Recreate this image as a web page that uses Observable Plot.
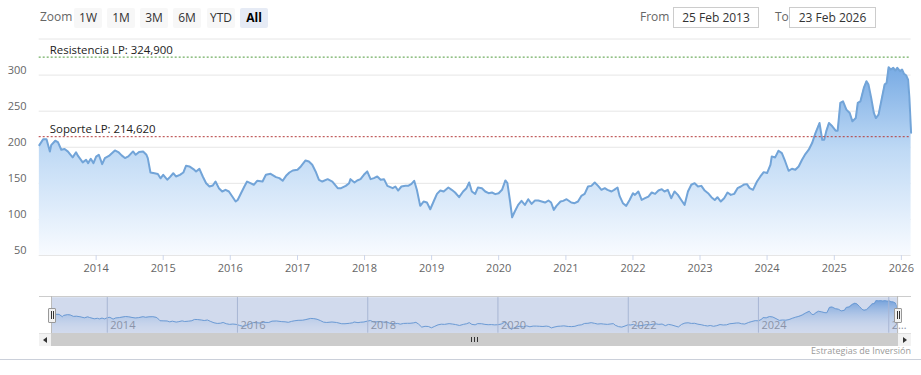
<!DOCTYPE html>
<html><head><meta charset="utf-8">
<script src="https://cdn.jsdelivr.net/npm/d3@7"></script>
<script src="https://cdn.jsdelivr.net/npm/@observablehq/plot@0.6"></script>
<style>
body{margin:0;background:#fff;font-family:"Open Sans",sans-serif;}
#wrap{position:relative;width:921px;height:375px;overflow:hidden;}
.abs{position:absolute;}
.btn{position:absolute;top:8px;height:20px;width:28px;background:#f7f7f7;color:#333;font-size:12px;line-height:20px;text-align:center;border-radius:2px;}
.btn.sel{background:#e6ebf5;font-weight:bold;color:#000;}
.lbl{position:absolute;font-size:12px;color:#666;line-height:20px;top:7px;}
.box{position:absolute;top:7px;height:19px;border:1px solid #ccc;font-size:12px;color:#333;text-align:center;line-height:19px;background:#fff;}
svg{position:absolute;left:0;}
</style></head><body><div id="wrap"></div>
<script>
// ---- data ----
const fromDate = "2013-02-25";
const toDate = "2026-02-23";
const fromLabel = "25 Feb 2013";
const toLabel = "23 Feb 2026";
const zoomButtons = ["1W","1M","3M","6M","YTD","All"];
const resistance = 324.9;
const support = 214.62;
const resistanceLabel = "Resistencia LP: 324,900";
const supportLabel = "Soporte LP: 214,620";
const yTicks = [50,100,150,200,250,300];
const yGrid = [50,100,150,200,250,300,350];
const yearTicks = [2014,2015,2016,2017,2018,2019,2020,2021,2022,2023,2024,2025,2026];
const navYears = [2014,2016,2018,2020,2022,2024,2026];
const navLabels = ["2014","2016","2018","2020","2022","2024","2…"];
const credit = "Estrategias de Inversión";
// decimal-year timestamps
const times = [2013.153,2013.21,2013.26,2013.31,2013.33,2013.39,2013.43,2013.48,2013.53,2013.58,2013.61,2013.65,2013.70,2013.73,2013.80,2013.85,2013.88,2013.92,2013.96,
2014.00,2014.04,2014.09,2014.13,2014.19,2014.28,2014.33,2014.38,2014.43,2014.48,2014.55,2014.59,2014.64,2014.70,2014.75,2014.77,2014.81,2014.87,2014.92,2014.96,
2015.00,2015.06,2015.10,2015.15,2015.19,2015.25,2015.30,2015.34,2015.39,2015.45,2015.49,2015.54,2015.59,2015.64,2015.69,2015.74,2015.78,2015.83,2015.88,2015.93,2015.98,
2016.03,2016.08,2016.11,2016.16,2016.21,2016.25,2016.30,2016.35,2016.40,2016.48,2016.53,2016.60,2016.68,2016.73,2016.78,2016.83,2016.88,2016.93,
2017.00,2017.05,2017.12,2017.17,2017.22,2017.27,2017.32,2017.37,2017.45,2017.52,2017.60,2017.65,2017.72,2017.77,2017.79,2017.85,2017.89,2017.94,2017.99,
2018.04,2018.09,2018.14,2018.19,2018.24,2018.29,2018.34,2018.42,2018.46,2018.50,2018.55,2018.61,2018.65,2018.70,2018.74,2018.78,2018.83,2018.88,2018.93,2018.98,
2019.03,2019.08,2019.13,2019.18,2019.25,2019.30,2019.35,2019.41,2019.47,2019.52,2019.56,2019.60,2019.65,2019.69,2019.75,2019.80,2019.85,2019.90,2019.95,
2020.00,2020.05,2020.10,2020.13,2020.17,2020.20,2020.24,2020.29,2020.34,2020.39,2020.44,2020.49,2020.54,2020.59,2020.64,2020.69,2020.74,2020.78,2020.82,2020.86,2020.92,2020.96,
2021.01,2021.08,2021.13,2021.18,2021.23,2021.28,2021.33,2021.38,2021.43,2021.48,2021.53,2021.58,2021.62,2021.68,2021.72,2021.77,2021.80,2021.85,2021.90,2021.95,
2022.00,2022.03,2022.08,2022.13,2022.18,2022.23,2022.28,2022.33,2022.38,2022.43,2022.47,2022.52,2022.57,2022.62,2022.67,2022.72,2022.77,2022.82,2022.87,2022.92,2022.97,
2023.02,2023.07,2023.12,2023.17,2023.22,2023.26,2023.31,2023.36,2023.41,2023.46,2023.51,2023.56,2023.61,2023.66,2023.70,2023.74,2023.79,2023.85,2023.90,2023.95,
2024.00,2024.05,2024.07,2024.12,2024.17,2024.22,2024.27,2024.32,2024.37,2024.42,2024.47,2024.52,2024.57,2024.62,2024.67,2024.72,2024.78,2024.82,2024.85,2024.88,2024.92,2024.97,
2025.02,2025.05,2025.09,2025.13,2025.18,2025.23,2025.27,2025.32,2025.35,2025.39,2025.44,2025.48,2025.51,2025.55,2025.59,2025.62,2025.66,2025.71,2025.75,2025.78,2025.81,2025.84,2025.88,2025.91,2025.94,2025.98,
2026.01,2026.04,2026.07,2026.10,2026.12,2026.145];
const prices = [203,211,211,194,203,209,207,196.5,197.5,194,190.5,186,193,188,179,182.6,178,184,178,
187,189.6,176.6,185,188,195.6,193.3,188.7,185,187.3,194.2,189.6,193.3,194.2,189.6,185,165,164,163,157,
161.8,155,158.6,164,159.5,161.8,165,174.3,173.4,169.7,166.4,170,159.5,150.2,145.6,147,152.5,143.3,138.7,141,138.7,
131.7,124.8,127,136.3,145.6,152.5,150.2,148,153.5,152.5,161.8,163.2,158.6,157.2,153.5,160.4,165,167.8,
168.8,173.4,181.7,180.3,175.7,166.5,154.9,152.5,155.8,152.5,143.3,143.3,146.5,150.2,155.8,151.2,154,155.8,161.8,
166.5,155.8,157.2,159.5,154.9,155.8,146.5,143.3,145.6,140,145.6,146.5,146.5,149.3,153.5,141,118.8,124.8,123.4,114.1,
124.8,135.4,140,138.7,144.2,141,137.3,130.8,138.7,143.3,151.2,138.7,135.4,144.2,143.3,138.7,136.3,137.3,135,
136.3,141,154,150.2,124.8,103,110.9,120.1,125.7,120.1,128,121.5,126.2,126.2,124.8,123.4,126.2,123.4,113.2,118.8,124.8,125.7,
128,123.4,122.5,124.8,132.6,135.4,145.6,146.5,151.2,146.5,141,143.3,141,138.7,141,144.2,132.6,122.5,118.8,127,
136.3,134,138.7,127,129.4,131.7,137.3,135.4,140,141.9,138.7,141,129.4,138.7,134,127,120.1,138.7,148,150.2,145.6,
146.5,140,136.3,130.8,127,130.8,124.8,129.4,137.3,134,135.4,143.3,145.6,148.5,148.9,143.3,141,152.6,159.5,165.5,
164.2,175.7,187.3,185.9,195.2,191.9,180.3,167.4,170.2,168.8,173.4,182.7,190.5,196.6,205.8,219.7,233.6,210.4,210.4,222,233.6,229,
223,223,261.4,263.7,252.1,247.5,235.9,240.5,261.4,263.7,282.2,291.5,286.8,268.3,247.5,240.5,245.2,268.3,286.8,289.1,310.9,307.7,310,306.3,310,305.4,
307.7,301.6,299.8,293.8,268.3,220];

// ---- helpers ----
function decToDate(t){const y=Math.floor(t);const s=Date.UTC(y,0,1),e=Date.UTC(y+1,0,1);return new Date(s+(t-y)*(e-s));}
const data = times.map((t,i)=>({date:decToDate(t), price:prices[i]}));
const x0 = new Date(fromDate), x1 = new Date(toDate);
const yearDates = yearTicks.map(y=>new Date(Date.UTC(y,0,1)));
const navDates = navYears.map(y=>new Date(Date.UTC(y,0,1)));
const NS="http://www.w3.org/2000/svg";
function addGradient(svg,id,stops){
  const defs=document.createElementNS(NS,"defs");
  const lg=document.createElementNS(NS,"linearGradient");
  lg.setAttribute("id",id);lg.setAttribute("x1","0");lg.setAttribute("y1","0");lg.setAttribute("x2","0");lg.setAttribute("y2","1");
  stops.forEach(([o,c,a])=>{const s=document.createElementNS(NS,"stop");s.setAttribute("offset",o);s.setAttribute("stop-color",c);s.setAttribute("stop-opacity",a);lg.appendChild(s);});
  defs.appendChild(lg);svg.insertBefore(defs,svg.firstChild);
}
const wrap=document.getElementById("wrap");
function div(cls,css,text){const d=document.createElement("div");if(cls)d.className=cls;d.style.cssText=css;if(text!=null)d.textContent=text;wrap.appendChild(d);return d;}

// ---- main chart ----
const main = Plot.plot({
  width:921, height:280,
  marginLeft:38.7, marginRight:10.4, marginTop:38.5, marginBottom:25,
  style:{fontFamily:"Open Sans", fontSize:"11px", background:"transparent", color:"#666", overflow:"visible"},
  x:{type:"utc", domain:[x0,x1]},
  y:{domain:[50,350]},
  marks:[
    Plot.ruleY(yGrid,{stroke:"#e6e6e6"}),
    Plot.areaY(data,{x:"date", y1:50, y2:"price", fill:"url(#mainGrad)"}),
    Plot.lineY(data,{x:"date", y:"price", stroke:"#72a4d8", strokeWidth:2}),
    Plot.ruleY([resistance],{stroke:"#4d9a3a", strokeDasharray:"2,2"}),
    Plot.ruleY([support],{stroke:"#b43a3a", strokeDasharray:"2,2"}),
    Plot.text([resistance],{x:()=>x0, y:d=>d, text:()=>resistanceLabel, textAnchor:"start", lineAnchor:"middle", dx:10.6, dy:-7, fill:"#222", fontSize:11.4}),
    Plot.text([support],{x:()=>x0, y:d=>d, text:()=>supportLabel, textAnchor:"start", lineAnchor:"middle", dx:10.6, dy:-7, fill:"#222", fontSize:11.4}),
    Plot.axisY(yTicks,{tickSize:0, tickPadding:12.7, dy:-5, fill:"#666", fontSize:11, label:null}),
    Plot.axisX(yearDates,{tickSize:5, tickPadding:4, stroke:"#ccd6eb", fill:"#666", tickFormat:"%Y", fontSize:11, label:null})
  ]
});
addGradient(main,"mainGrad",[["0","#78abe4",1],["0.45","#c0daf5",1],["1","#f8fbff",1]]);
main.style.top="0px";
wrap.appendChild(main);

// ---- navigator ----
const nav = Plot.plot({
  width:921, height:60,
  marginLeft:51.5, marginRight:23.3, marginTop:16.7, marginBottom:7.3,
  style:{fontFamily:"Open Sans", fontSize:"11px", background:"transparent", overflow:"visible"},
  x:{type:"utc", domain:[x0,x1], axis:null},
  y:{domain:[75,335], axis:null},
  marks:[
    Plot.areaY(data,{x:"date", y1:75, y2:"price", fill:"url(#navGrad)"}),
    Plot.lineY(data,{x:"date", y:"price", stroke:"#6fa5dc", strokeWidth:1}),
    Plot.ruleX(navDates,{stroke:"#c4cbdb"}),
    Plot.frame({fill:"rgba(102,133,194,0.3)", stroke:null}),
    Plot.text(navDates,{x:d=>d, text:(d,i)=>navLabels[i], frameAnchor:"bottom", dy:-7.7, dx:3, textAnchor:"start", lineAnchor:"middle", fill:"#8a93a8", fontSize:11})
  ]
});
addGradient(nav,"navGrad",[["0","#7aaee6",1],["1","#ffffff",0.2]]);
nav.style.top="280px";
wrap.appendChild(nav);

// ---- range selector (HTML chrome) ----
div("lbl","left:40px;","Zoom");
const btnX=[74,107,140,173,207,240];
zoomButtons.forEach((b,i)=>div("btn"+(b==="All"?" sel":""),`left:${btnX[i]}px;`,b));
div("lbl","left:640px;","From");
div("box","left:673px;width:84px;",fromLabel);
div("lbl","left:775px;","To");
div("box","left:789px;width:85px;",toLabel);

// navigator outline & handles
div("abs","left:39px;top:296px;width:872px;height:1px;background:#ccc;");
div("abs","left:51px;top:296px;width:1px;height:37px;background:#bbb;");
div("abs","left:897px;top:296px;width:1px;height:37px;background:#bbb;");
function handle(x){
  div("abs",`left:${x}px;top:308px;width:6px;height:13px;background:#f2f2f2;border:1px solid #999;border-radius:1px;`);
  div("abs",`left:${x+3}px;top:311px;width:1px;height:8px;background:#333;`);
  div("abs",`left:${x+5}px;top:311px;width:1px;height:8px;background:#333;`);
}
handle(48);handle(894);
// scrollbar
div("abs","left:39px;top:333px;width:12px;height:13px;background:#f2f2f2;border-top:1px solid #e0e0e0;box-sizing:border-box;");
div("abs","left:43px;top:337px;width:0;height:0;border-top:3px solid transparent;border-bottom:3px solid transparent;border-right:4px solid #333;");
div("abs","left:51px;top:333px;width:847px;height:13px;background:#cccccc;");
[471,474,477].forEach(x=>div("abs",`left:${x}px;top:337px;width:1px;height:5px;background:#333;`));
div("abs","left:898px;top:333px;width:13px;height:13px;background:#f2f2f2;border-top:1px solid #e0e0e0;box-sizing:border-box;");
div("abs","left:903px;top:337px;width:0;height:0;border-top:3px solid transparent;border-bottom:3px solid transparent;border-left:4px solid #333;");
// credits and bottom border
div("abs","right:10px;top:344px;font-size:9px;color:#999;",credit);
div("abs","left:0;top:359px;width:921px;height:1px;background:#cbd0da;");
</script></body></html>
